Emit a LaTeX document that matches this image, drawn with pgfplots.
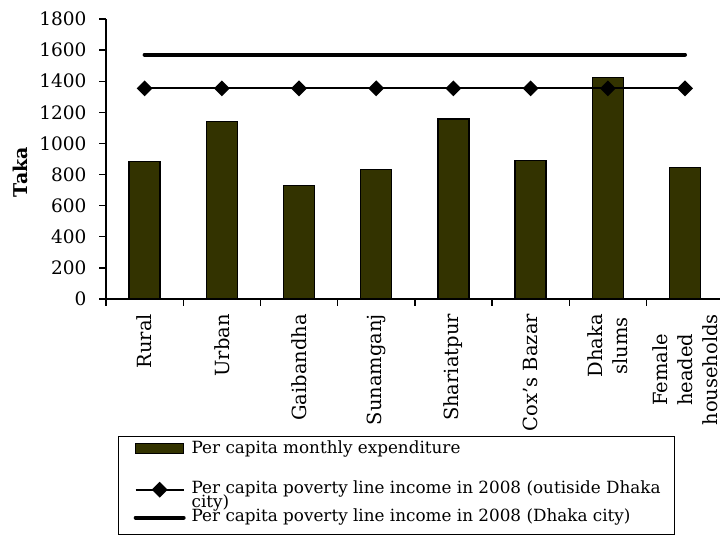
\documentclass[border=0pt]{standalone}
\usepackage{pgfplots}
\pgfplotsset{compat=1.18}
\usepackage{fontspec}
\setmainfont{DejaVu Serif}
\definecolor{barolive}{RGB}{51,51,0}

\begin{document}
\begin{tikzpicture}[x=1bp,y=1bp]
\path[use as bounding box] (0,0) rectangle (720,544);
\begin{axis}[
  at={(106bp,245bp)}, anchor=south west,
  scale only axis, width=617.6bp, height=280bp,
  xmin=-0.5, xmax=7.5, ymin=0, ymax=1800,
  axis x line*=bottom, axis y line*=left,
  axis line style={line width=1.4bp, -},
  tick align=outside, major tick length=7bp,
  tick style={black, line width=1.4bp},
  /pgf/number format/assume math mode=true,
  /pgf/number format/1000 sep={},
  ytick={0,200,...,1800},
  yticklabel style={font=\fontsize{18.5bp}{22bp}\selectfont, xshift=-9bp},
  xtick={-0.5,0.5,...,7.5}, xticklabels={},
  extra x ticks={0,1,...,7},
  extra x tick labels={Rural,Urban,Gaibandha,Sunamganj,Shariatpur,Cox’s Bazar,{Dhaka\\slums},{Female\\headed\\households}},
  extra x tick style={major tick length=0pt,
    xticklabel style={rotate=90, anchor=east, align=center,
      font=\fontsize{19.5bp}{25bp}\selectfont, xshift=-11.5bp}},
  ylabel={Taka},
  ylabel style={at={(axis description cs:-0.1393,0.4536)}, anchor=center,
    font=\bfseries\fontsize{19bp}{22bp}\selectfont},
  legend style={at={(0.0194,-0.4893)}, anchor=north west, draw=black,
    line width=1.4bp, inner sep=0pt, row sep=0pt, column sep=0pt,
    font=\fontsize{16.8bp}{19bp}\selectfont, nodes={inner sep=0pt}},
  legend cell align=left,
]
\addplot[ybar, bar width=0.4, fill=barolive, draw=black, line width=1.4bp,
  legend image code/.code={
    \path[draw=none, fill=none] (-17bp,-16.33bp) rectangle (56bp,16.33bp);
    \draw[fill=barolive, draw=black, line width=1.4bp] (0bp,-0.7bp) rectangle (48bp,9.3bp);}]
  coordinates {(0,885) (1,1140) (2,728) (3,833) (4,1157) (5,889) (6,1425) (7,846)};
\addlegendentry{\raisebox{-1.7bp}[0pt][0pt]{\makebox[483bp][l]{Per capita monthly expenditure}}}

\addplot[black, line width=2bp, mark=square*, mark size=4.6bp,
  mark options={rotate=45, solid},
  legend image code/.code={
    \path[draw=none, fill=none] (-17bp,-16.33bp) rectangle (56bp,16.33bp);
    \draw[black, line width=2bp, mark=square*, mark size=4.6bp,
      mark options={rotate=45, solid}, mark repeat=2, mark phase=2]
      plot coordinates {(0bp,-4bp) (24bp,-4bp) (48bp,-4bp)};}]
  coordinates {(0,1354) (1,1354) (2,1354) (3,1354) (4,1354) (5,1354) (6,1354) (7,1354)};
\addlegendentry{\raisebox{-9bp}[0pt][0pt]{\makebox[483bp][l]{\rlap{\raisebox{-14bp}{city)}}Per capita poverty line income in 2008 (outiside Dhaka}}}

\addplot[black, line width=4bp, line cap=round, mark=none,
  legend image code/.code={
    \path[draw=none, fill=none] (-17bp,-16.33bp) rectangle (56bp,16.33bp);
    \draw[black, line width=4bp, line cap=round] (0bp,0.7bp) -- (48bp,0.7bp);}]
  coordinates {(0,1571) (1,1571) (2,1571) (3,1571) (4,1571) (5,1571) (6,1571) (7,1571)};
\addlegendentry{\raisebox{-4.3bp}[0pt][0pt]{\makebox[483bp][l]{Per capita poverty line income in 2008 (Dhaka city)}}}
\end{axis}
\end{tikzpicture}
\end{document}
